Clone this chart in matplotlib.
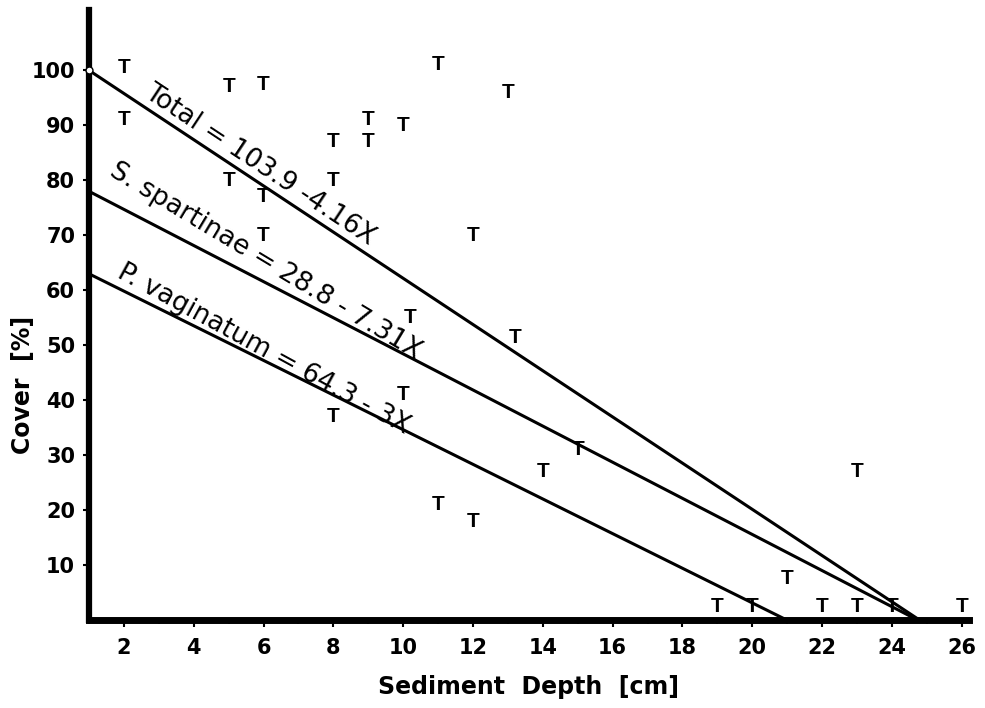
import numpy as np
import matplotlib
matplotlib.use("Agg")
import matplotlib.pyplot as plt

depth = [2, 2, 5, 6, 5, 6, 6, 8, 8, 9, 9, 10, 11, 13, 12, 10.2, 13.2, 10, 8,
         15, 14, 11, 12, 23, 21, 19, 20, 22, 23, 24, 26]
cover = [100.5, 91, 97, 97.5, 80, 77, 70, 87, 80, 91, 87, 90, 101, 96, 70, 55, 51.5,
         41, 37, 31, 27, 21, 18, 27, 7.5, 2.5, 2.5, 2.5, 2.5, 2.5, 2.5]

# regression lines: start / end points
line_names = ["Total", "S. spartinae", "P. vaginatum"]
line_x = [[1, 24.8], [1, 24.75], [1, 21.0]]
line_y = [[100, 0], [78, 0], [63, 0]]
line_labels = ["Total = 103.9 -4.16X",
               "S. spartinae = 28.8 - 7.31X",
               "P. vaginatum = 64.3 - 3X"]
label_pos = [(2.45, 94.5), (1.45, 80.0), (1.7, 61.5)]
label_rot = [-33.5, -31.0, -28.6]

xticks = np.arange(2, 27, 2)
yticks = np.arange(10, 101, 10)

plt.rcParams["font.family"] = ["DejaVu Sans"]

fig = plt.figure(figsize=(9.85, 7.08), dpi=100)
ax = fig.add_axes([0.0904, 0.124, 0.893, 0.862])

for xs, ys in zip(line_x, line_y):
    ax.plot(xs, ys, color="black", lw=2.2, solid_capstyle="butt")
ax.plot(1, 100, "o", ms=5, mfc="white", mec="black", mew=1, zorder=5, clip_on=False)

for (lx, ly), txt, rot in zip(label_pos, line_labels, label_rot):
    ax.text(lx, ly, txt, rotation=rot, rotation_mode="anchor", ha="left", va="bottom",
            fontsize=19, color="black")

for x, y in zip(depth, cover):
    ax.text(x, y, "T", ha="center", va="center", fontsize=15, fontweight="bold",
            family="Liberation Sans")

ax.set_xlim(1, 26.2)
ax.set_ylim(0, 111)
ax.set_xticks(xticks)
ax.set_xticks(np.arange(1, 27, 1), minor=True)
ax.set_yticks(yticks)
ax.tick_params(axis="x", which="major", direction="out", length=5, width=1.5,
               labelsize=15, pad=8)
ax.tick_params(axis="x", which="minor", direction="out", length=3, width=1.2)
ax.tick_params(axis="y", which="major", direction="out", length=4, width=1.5,
               labelsize=15, pad=6)
for lab in ax.get_xticklabels() + ax.get_yticklabels():
    lab.set_fontweight("bold")

for side in ["top", "right"]:
    ax.spines[side].set_visible(False)
ax.spines["left"].set_linewidth(4.5)
ax.spines["bottom"].set_linewidth(5)

ax.set_xlabel("Sediment  Depth  [cm]", fontsize=17, fontweight="bold", labelpad=12)
ax.set_ylabel("Cover  [%]", fontsize=17, fontweight="bold")
ax.yaxis.set_label_coords(-0.062, 0.385)

fig.savefig("out.png", dpi=100)
